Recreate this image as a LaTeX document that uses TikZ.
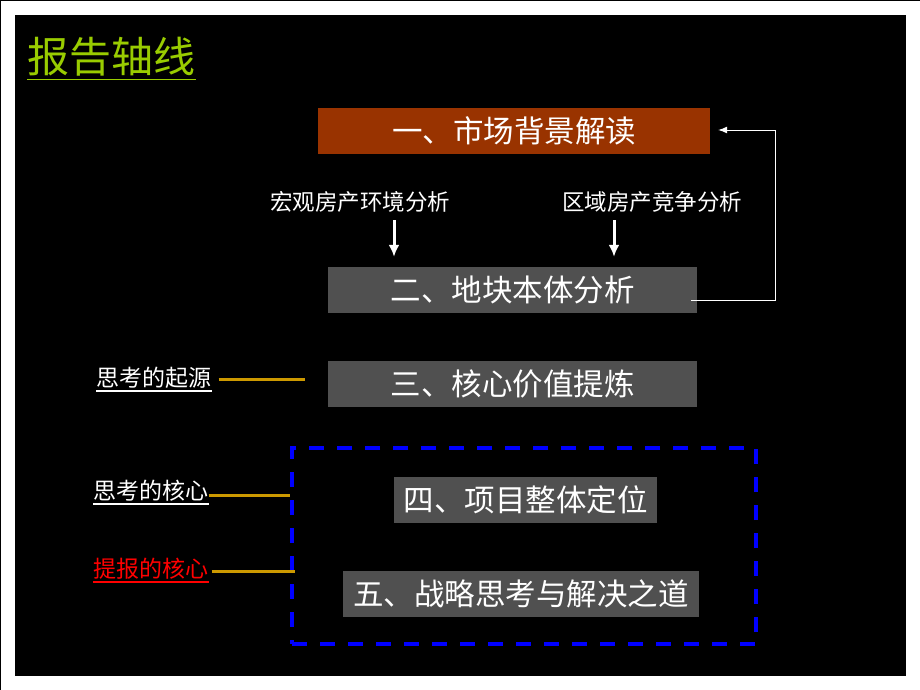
\documentclass[tikz,border=0pt]{standalone}
\usepackage{fontspec}
\setmainfont{Noto Sans CJK SC}
\usepackage{tikz}
\usetikzlibrary{arrows}
\usetikzlibrary{arrows.meta}
\usetikzlibrary{positioning}
\definecolor{rustbox}{RGB}{153,51,0}
\definecolor{greybox}{RGB}{80,80,80}
\definecolor{titlegreen}{RGB}{153,204,0}
\definecolor{goldline}{RGB}{204,153,0}
\tikzset{>=latex, chapter/.style={fill=greybox, text=white, inner sep=0pt, minimum height=46pt, font=\fontsize{30.5pt}{30.5pt}\selectfont},
  source/.style={text=white, inner sep=0pt, font=\fontsize{22.5pt}{22.5pt}\selectfont},
  remark/.style={text=white, inner sep=0pt, font=\fontsize{23pt}{23pt}\selectfont},
  link/.style={goldline, line width=3pt},
  underline/.style={line width=1.5pt}}

\begin{document}
\begin{tikzpicture}[x=1pt,y=-1pt]
\useasboundingbox (0,0) rectangle (920,690);
\fill[black] (15,15) rectangle (906,676);
\draw[black, line width=1pt] (0.5,690) -- (0.5,0.5) -- (920,0.5);
%%
\node (heading) at (111.5,56.5) [text=titlegreen, inner sep=0pt, font=\fontsize{42pt}{42pt}\selectfont] {报告轴线};
  \draw [titlegreen, underline] ([yshift=-3pt]heading.south west) -- ([yshift=-3pt]heading.south east);
%
\node (market) at (514,131) [chapter, fill=rustbox, minimum width=392pt] {一、市场背景解读};
  \node (site) at (512.5,290) [chapter, minimum width=369pt] {二、地块本体分析};
  \node (value) at (512.5,384) [chapter, minimum width=369pt] {三、核心价值提炼};
  \node (core) at (524,546) [draw=blue, line width=4pt, dash pattern=on 15pt off 13pt, minimum width=464pt, minimum height=196pt] {};
  \node (position) at (525.5,500) [chapter, minimum width=263pt] {四、项目整体定位};
  \node (strategy) at (521,594) [chapter, minimum width=356pt] {五、战略思考与解决之道};
%
\node (macro) at (360,202) [source] {宏观房产环境分析};
  \node (region) at (652,202) [source] {区域房产竞争分析};
  \coordinate (macro tail) at (394,220);
  \coordinate (region tail) at (614,220);
  \draw [-{Latex[length=12pt,width=11pt]}, white, line width=3pt, shorten >=10pt] (macro tail) -- (macro tail |- site.north);
  \draw [-{Latex[length=12pt,width=11pt]}, white, line width=3pt, shorten >=10pt] (region tail) -- (region tail |- site.north);
%
\coordinate (back start) at (691,300);
  \coordinate (back turn) at (775,130);
  \draw [-{Latex[length=9pt,width=7pt]}, white, line width=1pt] (back start) -| (back turn) -- ([xshift=8pt]market.east |- back turn);
%
\node (origin) at (154,378) [remark] {思考的起源};
  \node (heart) at (151,491) [remark] {思考的核心};
  \node (pitch) at (151,569) [remark, text=red] {提报的核心};
  \draw [white, underline] ([yshift=-2pt]origin.south west) -- ([yshift=-2pt]origin.south east);
  \draw [white, underline] ([yshift=-2pt]heart.south west) -- ([yshift=-2pt]heart.south east);
  \draw [red, underline] ([yshift=-2pt]pitch.south west) -- ([yshift=-2pt]pitch.south east);
  \coordinate (origin end) at (305,379);
  \draw [link] ([xshift=7pt]origin.east |- origin end) -- (origin end);
  \draw [link] ([yshift=-4pt]heart.east) -- ([yshift=-4pt]heart.east -| core.west);
  \draw [link] ([xshift=3pt,yshift=-2pt]pitch.east) -- ([xshift=5pt,yshift=-2pt]pitch.east -| core.west);
%
\end{tikzpicture}
\end{document}
